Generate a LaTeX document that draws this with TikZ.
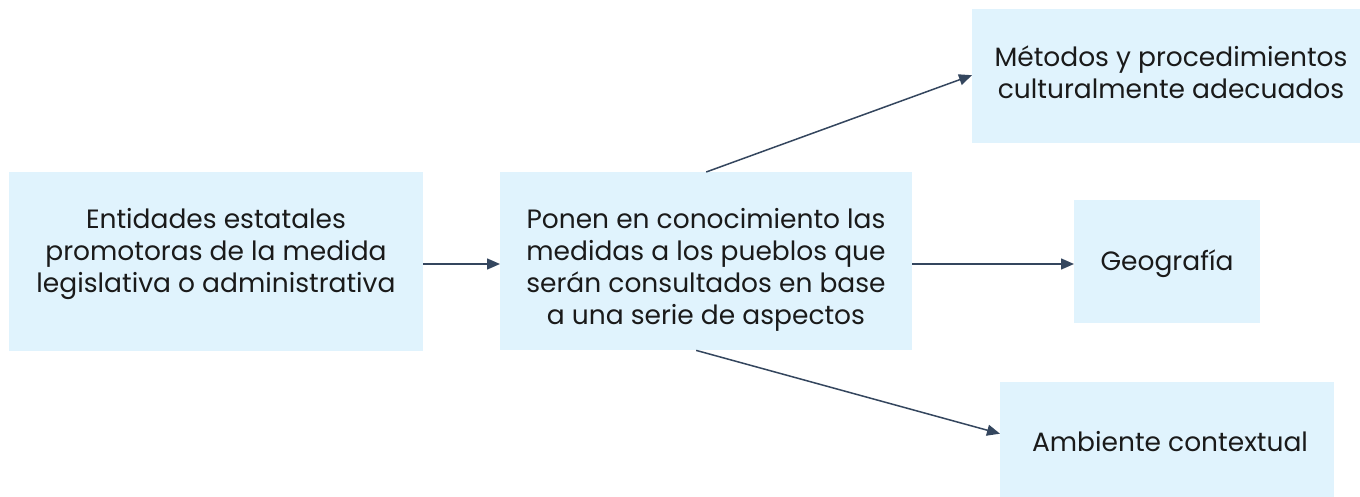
\documentclass[tikz,border=0pt]{standalone}
\usepackage{fontspec}
\setmainfont{Poppins}
\usetikzlibrary{arrows.meta}
\definecolor{boxfill}{HTML}{E0F3FD}
\definecolor{arrowcol}{HTML}{34465E}
\definecolor{txtcol}{HTML}{1A1A1A}
\tikzset{
  box/.style={fill=boxfill, draw=none, inner sep=0pt, anchor=north west},
  lbl/.style={align=center, text=txtcol, inner sep=0pt, font=\fontsize{26.5}{32}\selectfont},
  conn/.style={draw=arrowcol, line width=1.5pt, -{Triangle[length=13pt,width=11pt]}}
}
\begin{document}
\begin{tikzpicture}[x=1pt,y=-1pt]
\useasboundingbox[fill=white] (0,0) rectangle (1360,497);
% boxes
\node[box, minimum width=414pt, minimum height=179pt] (b1) at (9,172) {};
\node[box, minimum width=412pt, minimum height=178pt] (b2) at (500,172) {};
\node[box, minimum width=388pt, minimum height=134pt] (b3) at (972,9) {};
\node[box, minimum width=186pt, minimum height=123pt] (b4) at (1074,200) {};
\node[box, minimum width=334pt, minimum height=115pt] (b5) at (1000,382) {};
% texts
\node[lbl] (t1) at (216,254) {Entidades estatales\\promotoras de la medida\\legislativa o administrativa};
\node[lbl] (t2) at (706,270) {Ponen en conocimiento las\\medidas a los pueblos que\\serán consultados en base\\a una serie de aspectos};
\node[lbl] (t3) at (1171,72) {Métodos y procedimientos\\culturalmente adecuados};
\node[lbl] (t4) at (1167,264) {Geografía};
\node[lbl] (t5) at (1170,442) {Ambiente contextual};
% connectors
\draw[conn] (b1.east |- 0,264) -- (b2.west |- 0,264);
\draw[conn] (b2.east |- 0,264) -- (b4.west |- 0,264);
\draw[conn] (b2.north) -- ([yshift=1pt]b3.west);
\draw[conn] ([xshift=-10pt]b2.south) -- ([yshift=6pt]b5.west);
\end{tikzpicture}
\end{document}
